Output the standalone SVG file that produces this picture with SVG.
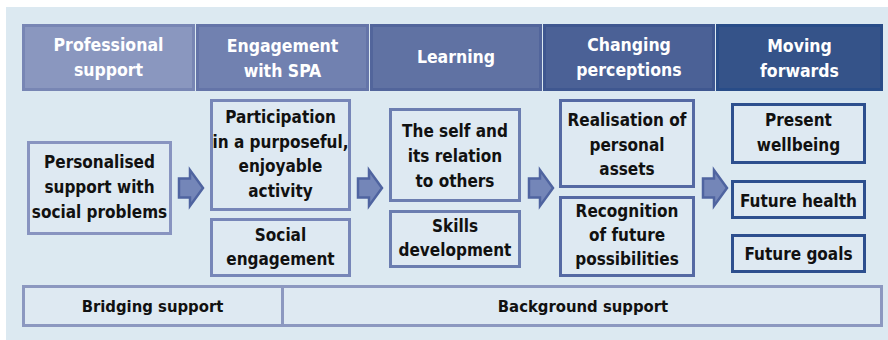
<svg xmlns="http://www.w3.org/2000/svg" width="888" height="340" viewBox="0 0 888 340">
<style>
text{font-family:"DejaVu Sans Condensed","DejaVu Sans",sans-serif;font-stretch:condensed;font-weight:bold;text-anchor:middle}
.h{fill:#ffffff;font-size:17.5px}
.b{fill:#111111;font-size:17px}
.f{fill:#111111;font-size:16.5px}
.box{fill:#dee9f2;stroke-width:3}
.c1{stroke:#8894c0}.c2{stroke:#7786b8}.c3{stroke:#6b7db0}.c4{stroke:#5569a3}.c5{stroke:#2d4f8e}
.arr{fill:#7486b8;stroke:#4f64a0;stroke-width:2.5;stroke-linejoin:miter}
</style>
<defs>
<polygon id="arrow" class="arr" points="0,-9.5 11,-9.5 11,-18 24,0 11,18 11,9.5 0,9.5"/>
</defs>
<rect x="6" y="7" width="882" height="333" fill="#dce9f1"/>
<g id="header">
<g id="h1"><rect x="23.5" y="25.5" width="170" height="64" fill="#8a97bf" stroke="#7886b4" stroke-width="3"/>
<text class="h" x="108.5" y="51">Professional</text><text class="h" x="108.5" y="76">support</text></g>
<g id="h2"><rect x="197.5" y="25.5" width="170" height="64" fill="#7181b0" stroke="#6474a8" stroke-width="3"/>
<text class="h" x="282.5" y="52">Engagement</text><text class="h" x="282.5" y="77">with SPA</text></g>
<g id="h3"><rect x="371.5" y="25.5" width="169" height="64" fill="#6072a3" stroke="#52659b" stroke-width="3"/>
<text class="h" x="456" y="63">Learning</text></g>
<g id="h4"><rect x="544.5" y="25.5" width="169" height="64" fill="#4b6196" stroke="#3f5790" stroke-width="3"/>
<text class="h" x="629" y="51">Changing</text><text class="h" x="629" y="76">perceptions</text></g>
<g id="h5"><rect x="717.5" y="25.5" width="164" height="64" fill="#355389" stroke="#284c88" stroke-width="3"/>
<text class="h" x="799.5" y="52">Moving</text><text class="h" x="799.5" y="77">forwards</text></g>
</g>
<g id="n1"><rect class="box c1" x="28.5" y="142.5" width="142" height="91"/>
<text class="b" x="99.5" y="168">Personalised</text><text class="b" x="99.5" y="193">support with</text><text class="b" x="99.5" y="218">social problems</text></g>
<g id="n2"><rect class="box c2" x="211.5" y="100.5" width="138" height="109"/>
<text class="b" x="280.5" y="123">Participation</text><text class="b" x="280.5" y="148">in a purposeful,</text><text class="b" x="280.5" y="172">enjoyable</text><text class="b" x="280.5" y="197">activity</text></g>
<g id="n3"><rect class="box c2" x="211.5" y="219.5" width="138" height="56"/>
<text class="b" x="280.5" y="241">Social</text><text class="b" x="280.5" y="265">engagement</text></g>
<g id="n4"><rect class="box c3" x="390.5" y="109.5" width="129" height="91"/>
<text class="b" x="455" y="137">The self and</text><text class="b" x="455" y="162">its relation</text><text class="b" x="455" y="187">to others</text></g>
<g id="n5"><rect class="box c3" x="390.5" y="211.5" width="129" height="55"/>
<text class="b" x="455" y="232">Skills</text><text class="b" x="455" y="256">development</text></g>
<g id="n6"><rect class="box c4" x="560.5" y="100.5" width="133" height="86"/>
<text class="b" x="627" y="126">Realisation of</text><text class="b" x="627" y="151">personal</text><text class="b" x="627" y="175">assets</text></g>
<g id="n7"><rect class="box c4" x="560.5" y="197.5" width="133" height="78"/>
<text class="b" x="627" y="217">Recognition</text><text class="b" x="627" y="241">of future</text><text class="b" x="627" y="265">possibilities</text></g>
<g id="n8"><rect class="box c5" x="732.5" y="104.5" width="132" height="58"/>
<text class="b" x="798.5" y="126">Present</text><text class="b" x="798.5" y="151">wellbeing</text></g>
<g id="n9"><rect class="box c5" x="732.5" y="181.5" width="132" height="36"/>
<text class="b" x="798.5" y="207">Future health</text></g>
<g id="n10"><rect class="box c5" x="732.5" y="235.5" width="132" height="36"/>
<text class="b" x="798.5" y="260">Future goals</text></g>
<g id="connectors">
<use href="#arrow" x="179" y="188"/>
<use href="#arrow" x="358" y="188"/>
<use href="#arrow" x="529" y="188"/>
<use href="#arrow" x="703" y="188"/>
</g>
<g id="footer">
<g id="bridging"><rect x="23.5" y="286.5" width="259" height="39" fill="#dee9f2" stroke="#8c98c0" stroke-width="3"/>
<text class="f" x="152.5" y="312">Bridging support</text></g>
<g id="background"><rect x="282.5" y="286.5" width="599" height="39" fill="#dee9f2" stroke="#8c98c0" stroke-width="3"/>
<text class="f" x="583" y="312">Background support</text></g>
</g>
</svg>
